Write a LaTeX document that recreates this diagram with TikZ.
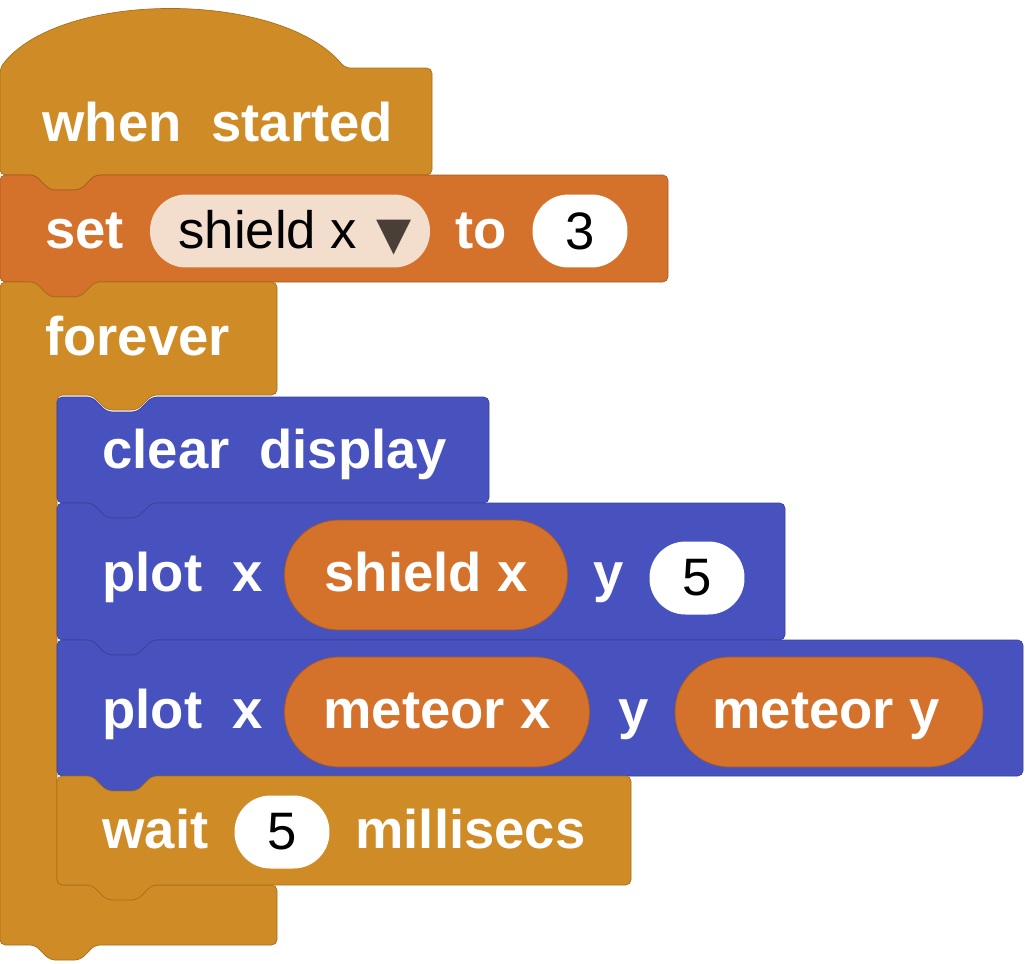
\documentclass[tikz,border=0pt]{standalone}
\usepackage{fontspec}
\setmainfont{Liberation Sans}
\newfontfamily\symfont{DejaVu Sans}
\usetikzlibrary{positioning}
\definecolor{ochre}{RGB}{207,139,37}
\definecolor{rust}{RGB}{212,113,42}
\definecolor{royal}{RGB}{72,82,190}
\definecolor{peach}{RGB}{243,221,205}
\definecolor{tri}{RGB}{74,62,56}
\newcommand{\bigfont}{\fontsize{31}{34}\selectfont\bfseries\spaceskip=0.55em}
\tikzset{
  lbl/.style={anchor=base west,text=white,font=\bigfont,inner sep=0pt},
  pilltext/.style={anchor=base,text=white,font=\fontsize{31}{34}\selectfont\bfseries,inner sep=0pt},
  pill/.style={rounded corners=31pt,draw=#1!80!black,fill=#1,minimum height=2.2cm,inner sep=0pt},
  numbox/.style={rounded corners=20.5pt,fill=white,text=black,
    font=\fontsize{30}{34}\selectfont,minimum height=1.46cm,minimum width=1.9cm,inner sep=0pt},
}
% block with a notch on top and a tab below
\newcommand{\blk}[5]{%
  \draw[rounded corners=3pt,draw=#5!80!black,fill=#5]
    (#1,-#2) -- ++(35,0) -- ++(15,-15) -- ++(30,0) -- ++(15,15) -- (#1+#3,-#2)
    -- (#1+#3,-#2-#4) -- (#1+95,-#2-#4) -- ++(-15,-15) -- ++(-30,0) -- ++(-15,15)
    -- (#1,-#2-#4) -- cycle;}
\begin{document}
\begin{tikzpicture}[x=0.02cm,y=0.02cm]
\useasboundingbox (0,0) rectangle (1025,-964);
%Draw hat block
\draw[rounded corners=3pt,draw=ochre!80!black,fill=ochre]
  (0,-175) -- (0,-68) .. controls (60,10) and (280,10) .. (345,-68)
  -- (432,-68) -- (432,-175) -- (95,-175) -- ++(-15,-15) -- ++(-30,0) -- ++(-15,15) -- cycle;
\node[lbl] (when) at (42,-141) {when started};
%Draw set block
\blk{0}{175}{668}{107}{rust}
\node[lbl] (set) at (45,-248) {set};
\node[rounded corners=20.5pt,fill=peach,minimum width=5.6cm,minimum height=1.46cm] (var) at (290,-231) {};
\node[anchor=base west,inner sep=0pt,font=\fontsize{30}{34}\selectfont] (varname) at (178,-248) {shield x};
\node[anchor=base west,inner sep=0pt,text=tri,font=\fontsize{26}{30}\symfont] (arrow) at (376,-249) {▼};
\node[lbl] (to) at (455,-248) {to};
\node[numbox] (three) at (580,-231) {3};
%Draw forever block
\draw[rounded corners=3pt,draw=ochre!80!black,fill=ochre]
  (0,-282) -- ++(35,0) -- ++(15,-15) -- ++(30,0) -- ++(15,15) -- (277,-282)
  -- (277,-395) -- (152,-395) -- ++(-15,-15) -- ++(-30,0) -- ++(-15,15) -- (57,-395)
  -- (57,-885) -- (277,-885) -- (277,-945) -- (95,-945) -- ++(-15,-15) -- ++(-30,0)
  -- ++(-15,15) -- (0,-945) -- cycle;
\node[lbl] (forever) at (45,-355) {forever};
%Draw inner blocks
\blk{57}{397}{432}{106}{royal}
\node[lbl] (clear) at (102,-468) {clear display};
\blk{57}{503}{728}{137}{royal}
\node[lbl] (plot1) at (102,-591) {plot x};
\node[pill=rust,minimum width=5.66cm] (shield) at (426,-575) {};
\node[pilltext] at (426,-591) {shield x};
\node[lbl] (y1) at (593,-591) {y};
\node[numbox] (five1) at (697,-578) {5};
\blk{57}{640}{966}{136}{royal}
\node[lbl] (plot2) at (102,-728) {plot x};
\node[pill=rust,minimum width=6.1cm] (mx) at (437,-712) {};
\node[pilltext] at (437,-728) {meteor x};
\node[lbl] (y2) at (618,-728) {y};
\node[pill=rust,minimum width=6.16cm] (my) at (829,-712) {};
\node[pilltext] at (826,-728) {meteor y};
\blk{57}{776}{574}{109}{ochre}
\node[lbl] (wait) at (102,-848) {wait};
\node[numbox] (five2) at (282,-832) {5};
\node[lbl] (ms) at (355,-848) {millisecs};
\end{tikzpicture}
\end{document}
